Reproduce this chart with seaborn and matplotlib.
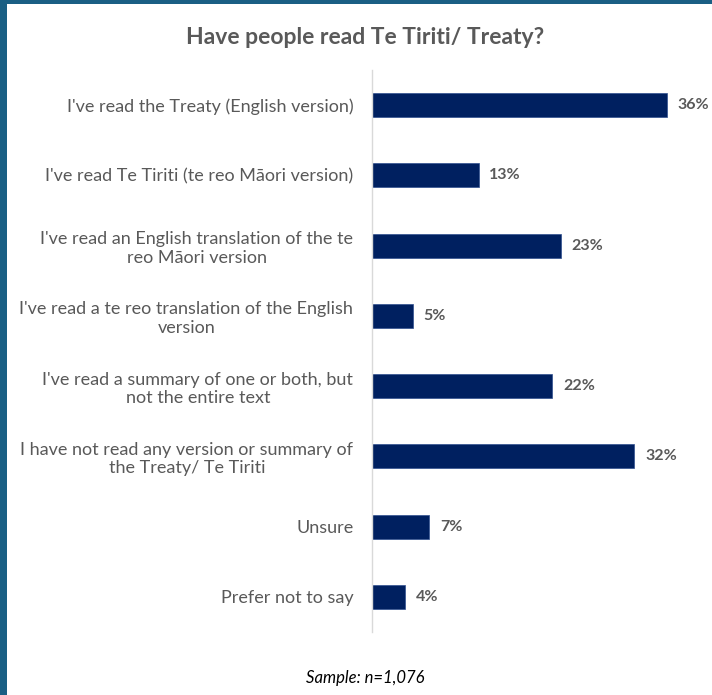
import matplotlib
matplotlib.use("Agg")
import matplotlib.pyplot as plt
from matplotlib.patches import Rectangle
import seaborn as sns
import pandas as pd

categories = [
    "I've read the Treaty (English version)",
    "I've read Te Tiriti (te reo Māori version)",
    "I've read an English translation of the te\nreo Māori version",
    "I've read a te reo translation of the English\nversion",
    "I've read a summary of one or both, but\nnot the entire text",
    "I have not read any version or summary of\nthe Treaty/ Te Tiriti",
    "Unsure",
    "Prefer not to say",
]
values = [36, 13, 23, 5, 22, 32, 7, 4]
title = "Have people read Te Tiriti/ Treaty?"
footnote = "Sample: n=1,076"

sns.set_theme(style="white")
plt.rcParams['font.family'] = ['Lato', 'DejaVu Sans']

df = pd.DataFrame({"cat": categories, "val": values})

fig = plt.figure(figsize=(7.12, 6.95), dpi=100)
fig.patch.set_facecolor("white")
ax = fig.add_axes([372/712, 1-632/695, 328/712, 562/695])

sns.barplot(data=df, y="cat", x="val", color="#002060", width=0.34,
            edgecolor="#2f4f8f", linewidth=0.5, ax=ax, saturation=1)

ax.set_xlim(0, 40)
ax.set_ylim(len(categories)-0.5, -0.5)
ax.set_xlabel("")
ax.set_ylabel("")
ax.set_xticks([])
for s in ["top", "right", "bottom"]:
    ax.spines[s].set_visible(False)
ax.spines["left"].set_color("#d9d9d9")
ax.spines["left"].set_linewidth(1)
ax.tick_params(axis="y", length=0, pad=13.5, labelsize=13, labelcolor="#595959")
for lbl in ax.get_yticklabels():
    lbl.set_multialignment("center")

for i, v in enumerate(values):
    ax.text(v + 1.3, i, f"{v}%", va="center", ha="left", fontsize=11.5,
            fontweight="bold", color="#595959")

fig.text(365/712, 1-37/695, title, ha="center", va="center", fontsize=16.5,
         fontweight="bold", color="#595959")
fig.text(365/712, 1-678/695, footnote, ha="center", va="center", fontsize=12,
         style="italic", color="black")

fig.patches.append(Rectangle((0, 0), 7/712, 1, transform=fig.transFigure,
                             facecolor="#1a5f84", edgecolor="none", zorder=10))
fig.patches.append(Rectangle((0, 1-4/695), 1, 4/695, transform=fig.transFigure,
                             facecolor="#1a5f84", edgecolor="none", zorder=10))

fig.savefig("out.png", dpi=100)
